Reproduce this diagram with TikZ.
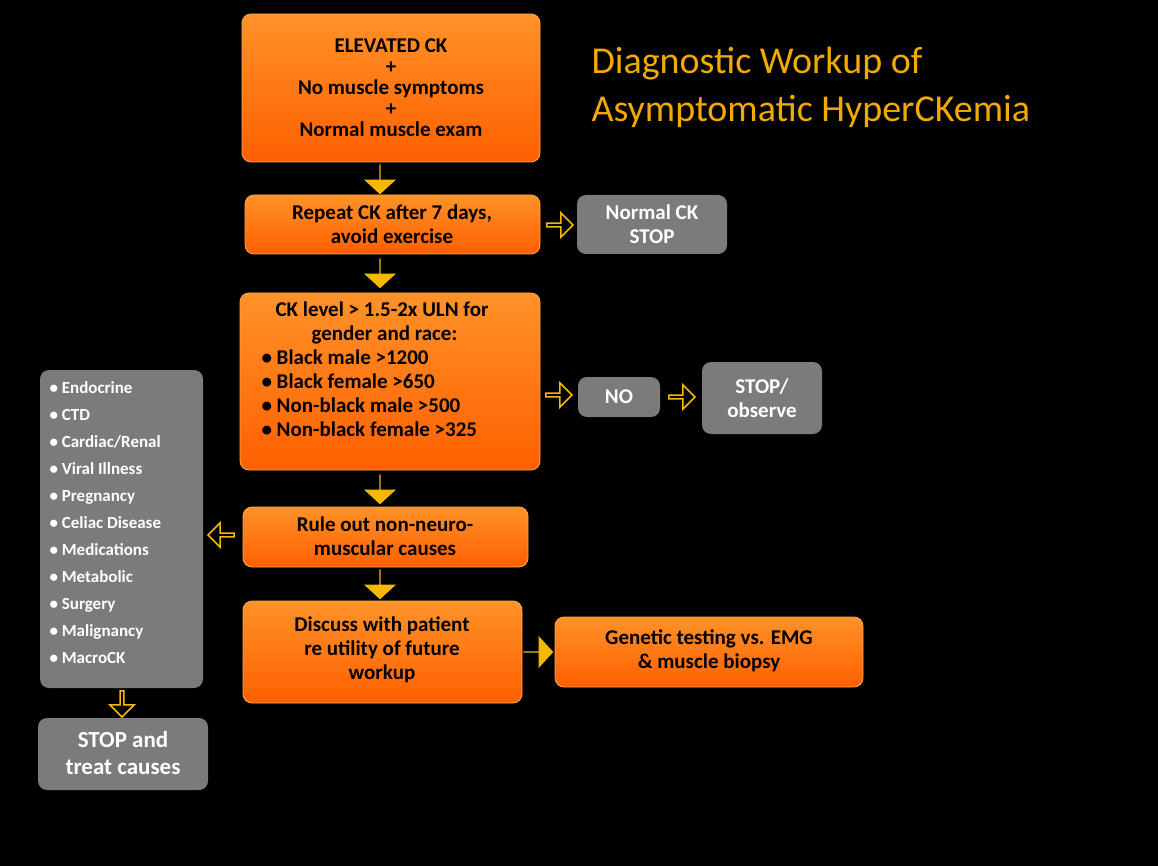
\documentclass[tikz,border=0pt]{standalone}
\usepackage{fontspec}
\setmainfont{Carlito}
\usetikzlibrary{shapes.arrows}
\definecolor{ylw}{HTML}{F5B800}
\definecolor{ttl}{HTML}{F2A900}
\definecolor{gbox}{HTML}{7B7B7B}
\begin{document}
\begin{tikzpicture}[x=1pt,y=-1pt,
 ob/.style={rounded corners=9pt,top color=orange!60!red!20!white!20!orange, bottom color=orange!75!red, draw=orange!70!white, line width=0.8pt},
 gb/.style={rounded corners=9pt,fill=gbox},
 tx/.style={font=\bfseries\fontsize{21}{24}\selectfont,align=center,text=black},
 wt/.style={font=\bfseries\fontsize{21}{24}\selectfont,align=center,text=white},
 sa/.style={single arrow,fill=ylw,minimum height=30pt,minimum width=32pt,single arrow head extend=5pt,inner sep=0pt,single arrow tip angle=95},
 ha/.style={single arrow,draw=ylw,line width=1.5pt,fill=black,minimum height=26pt,minimum width=24pt,single arrow head extend=4pt,inner sep=0pt},
]
\fill[black] (0,0) rectangle (1158,866);
\useasboundingbox (0,0) rectangle (1158,866);
% boxes
\fill[ob] (242,14) rectangle (540,162);
\node[tx] (top) at (391,88) {ELEVATED CK\\[-3pt]+\\[-3pt]No muscle symptoms\\[-3pt]+\\[-3pt]Normal muscle exam};
\fill[ob] (245,195) rectangle (540,254);
\node[tx] (rep) at (392,224) {Repeat CK after 7 days,\\avoid exercise};
\fill[gb] (577,195) rectangle (727,254);
\node[wt] (nck) at (652,224) {Normal CK\\STOP};
\fill[ob] (240,293) rectangle (540,470);
\node[tx,align=left,anchor=north west] (lvl) at (258,298) {\hspace*{14pt}CK level > 1.5-2x ULN for\\\hspace*{50pt}gender and race:\\• Black male >1200\\• Black female >650\\• Non-black male >500\\• Non-black female >325};
\fill[gb] (578,377) rectangle (660,417);
\node[wt] (no) at (619,397) {NO};
\fill[gb] (702,362) rectangle (822,434);
\node[wt] (stp) at (762,398) {STOP/\\observe};
\fill[ob] (243,507) rectangle (528,567);
\node[tx] (rule) at (385,536) {Rule out non-neuro-\\muscular causes};
\fill[gb] (40,370) rectangle (203,688);
\node[font=\bfseries\fontsize{17}{27}\selectfont,align=left,text=white,anchor=north west] (lst) at (46,378) {• Endocrine\\• CTD\\• Cardiac/Renal\\• Viral Illness\\• Pregnancy\\• Celiac Disease\\• Medications\\• Metabolic\\• Surgery\\• Malignancy\\• MacroCK};
\fill[ob] (243,601) rectangle (522,703);
\node[tx] (dis) at (382,650) {Discuss with patient\\re utility of future\\workup};
\fill[ob] (555,617) rectangle (863,687);
\node[tx] (gen) at (709,651) {Genetic testing vs. EMG\\\& muscle biopsy};
\fill[gb] (38,718) rectangle (208,790);
\node[wt,font=\bfseries\fontsize{23}{27}\selectfont] (trt) at (123,753) {STOP and\\treat causes};
% arrows
\node[sa,rotate=-90] (a1) at (380,179) {};
\node[sa,rotate=-90] (a2) at (380,273) {};
\node[sa,rotate=-90] (a3) at (380,489) {};
\node[sa,rotate=-90] (a4) at (380,584) {};
\node[sa] (a5) at (538,652) {};
\node[ha] (h1) at (559,225) {};
\node[ha] (h2) at (558,395) {};
\node[ha] (h3) at (681,397) {};
\node[ha,rotate=180] (h4) at (222,535) {};
\node[ha,rotate=-90] (h5) at (122,703) {};
% title
\node[anchor=west,text=ttl,font=\fontsize{38}{48}\selectfont,align=left] (tt) at (588,87) {Diagnostic Workup of\\Asymptomatic HyperCKemia};
\end{tikzpicture}
\end{document}
